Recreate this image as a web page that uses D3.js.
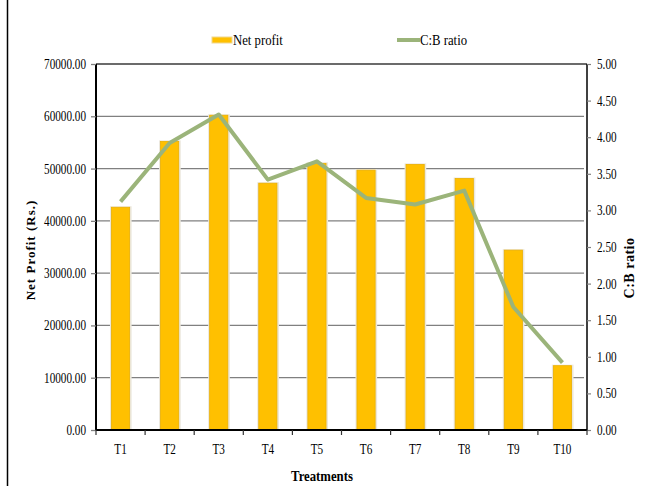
<!DOCTYPE html>
<html><head><meta charset="utf-8">
<script src="https://cdn.jsdelivr.net/npm/d3@7"></script>
<style>body{margin:0;background:#fff}svg{display:block}</style>
</head><body>
<svg id="c" width="654" height="486"></svg>
<script>
const categories = ["T1","T2","T3","T4","T5","T6","T7","T8","T9","T10"];
const netProfit = [42600, 55200, 60200, 47200, 51000, 49700, 50800, 48100, 34400, 12300];
const cbRatio = [3.12, 3.92, 4.31, 3.42, 3.67, 3.17, 3.08, 3.27, 1.68, 0.92];
const leftTicks = [0,10000,20000,30000,40000,50000,60000,70000];
const rightTicks = [0,0.5,1,1.5,2,2.5,3,3.5,4,4.5,5];

const svg = d3.select("#c");
const L=96, R=587, T=64, B=430;
const x = d3.scaleBand().domain(categories).range([L,R]).paddingInner(0.63).paddingOuter(0.315);
const xb = d3.scaleBand().domain(categories).range([L,R]);
const yL = d3.scaleLinear().domain([0,70000]).range([B,T]);
const yR = d3.scaleLinear().domain([0,5]).range([B,T]);
const serif = "'Liberation Serif','DejaVu Serif',serif";

// page border line
svg.append("line").attr("x1",7.5).attr("x2",7.5).attr("y1",0).attr("y2",486).attr("stroke","#000").attr("stroke-width",1.5);

// gridlines
svg.append("g").selectAll("line").data(leftTicks.filter(d=>d>0&&d<70000)).join("line")
  .attr("x1",L).attr("x2",R-3).attr("y1",d=>yL(d)).attr("y2",d=>yL(d))
  .attr("stroke","#808080").attr("stroke-width",1.3);
svg.append("line").attr("x1",L).attr("x2",R).attr("y1",yL(70000)).attr("y2",yL(70000)).attr("stroke","#3a3a3a").attr("stroke-width",1.3);

// bars
const bars = svg.append("g");
bars.selectAll("rect.sh").data(categories).join("rect").attr("class","sh")
  .attr("x",d=>x(d)-1.5).attr("width",x.bandwidth()+3.5)
  .attr("y",(d,i)=>yL(netProfit[i])-1).attr("height",(d,i)=>B-yL(netProfit[i])+1)
  .attr("fill","#ebe7dc");
bars.selectAll("rect.b").data(categories).join("rect").attr("class","b")
  .attr("x",d=>x(d)).attr("width",x.bandwidth())
  .attr("y",(d,i)=>yL(netProfit[i])).attr("height",(d,i)=>B-yL(netProfit[i]))
  .attr("fill","#FFC000").attr("stroke","#EBB000").attr("stroke-width",0.8);

// line
const line = d3.line().x((d,i)=>xb(categories[i])+xb.bandwidth()/2).y(d=>yR(d));
svg.append("path").datum(cbRatio).attr("d",line).attr("fill","none")
  .attr("stroke","#9BB47A").attr("stroke-width",4).attr("stroke-linejoin","round");

// left axis
const gL = svg.append("g").attr("transform",`translate(${L},0)`)
  .call(d3.axisLeft(yL).tickValues(leftTicks).tickSize(5).tickPadding(5).tickFormat(d3.format(".2f")));
gL.select(".domain").attr("stroke","#000").attr("stroke-width",2).attr("d",`M0,${T}V${B}`);
gL.selectAll(".tick line").attr("stroke","#808080").attr("stroke-width",1.3);
gL.selectAll(".tick text").attr("font-family",serif).attr("font-size",14).attr("fill","#000")
  .attr("transform",function(){const t=d3.select(this.parentNode).attr("transform");return "scale(0.8,1)";})
  .attr("x",-10/0.8);

// right axis
const gR = svg.append("g").attr("transform",`translate(${R},0)`)
  .call(d3.axisRight(yR).tickValues(rightTicks).tickSize(4).tickPadding(6).tickFormat(d3.format(".2f")));
gR.select(".domain").attr("stroke","#000").attr("stroke-width",1.5).attr("d",`M0,${T}V${B}`);
gR.selectAll(".tick line").attr("stroke","#808080").attr("stroke-width",1.2);
gR.selectAll(".tick text").attr("font-family",serif).attr("font-size",14).attr("fill","#000")
  .attr("transform","scale(0.8,1)").attr("x",10/0.8);

// bottom axis
const gB = svg.append("g").attr("transform",`translate(0,${B})`)
  .call(d3.axisBottom(x).tickSize(0).tickPadding(14));
gB.select(".domain").attr("stroke","#000").attr("stroke-width",2).attr("d",`M${L},0H${R}`);
gB.selectAll(".tick text").attr("font-family",serif).attr("font-size",14).attr("fill","#000")
  .attr("transform",function(d){const cx=x(d)+x.bandwidth()/2;return `translate(${cx},0) scale(0.8,1) translate(${-cx},0)`;});
gB.selectAll(".tick").attr("transform",d=>`translate(${x(d)+x.bandwidth()/2},0)`);
gB.selectAll(".tick text").attr("transform","scale(0.8,1)");
svg.append("g").selectAll("line").data(categories.concat(["end"])).join("line")
  .attr("x1",(d,i)=>L+i*xb.step()).attr("x2",(d,i)=>L+i*xb.step())
  .attr("y1",B).attr("y2",B+5).attr("stroke","#333").attr("stroke-width",1.2);

// axis titles
svg.append("text").attr("transform","translate(35,250) rotate(-90)").attr("text-anchor","middle")
  .attr("font-family",serif).attr("font-weight","bold").attr("font-size",13).attr("letter-spacing",1)
  .text("Net Profit (Rs.)");
svg.append("text").attr("transform","translate(634,268) rotate(-90)").attr("text-anchor","middle")
  .attr("font-family",serif).attr("font-weight","bold").attr("font-size",14).attr("letter-spacing",0.5)
  .text("C:B ratio");
svg.append("text").attr("transform","translate(322,481) scale(0.85,1)").attr("text-anchor","middle")
  .attr("font-family",serif).attr("font-weight","bold").attr("font-size",15)
  .text("Treatments");

// legend
svg.append("rect").attr("x",212).attr("y",37).attr("width",20).attr("height",6).attr("fill","#FFC000").attr("stroke","#f0d890").attr("stroke-width",1);
svg.append("text").attr("transform","translate(233,45) scale(0.85,1)").attr("font-family",serif).attr("font-size",15).text("Net profit");
svg.append("line").attr("x1",397).attr("x2",420).attr("y1",40).attr("y2",40).attr("stroke","#9BB47A").attr("stroke-width",4);
svg.append("text").attr("transform","translate(420,45) scale(0.85,1)").attr("font-family",serif).attr("font-size",15).text("C:B ratio");
</script>
</body></html>
